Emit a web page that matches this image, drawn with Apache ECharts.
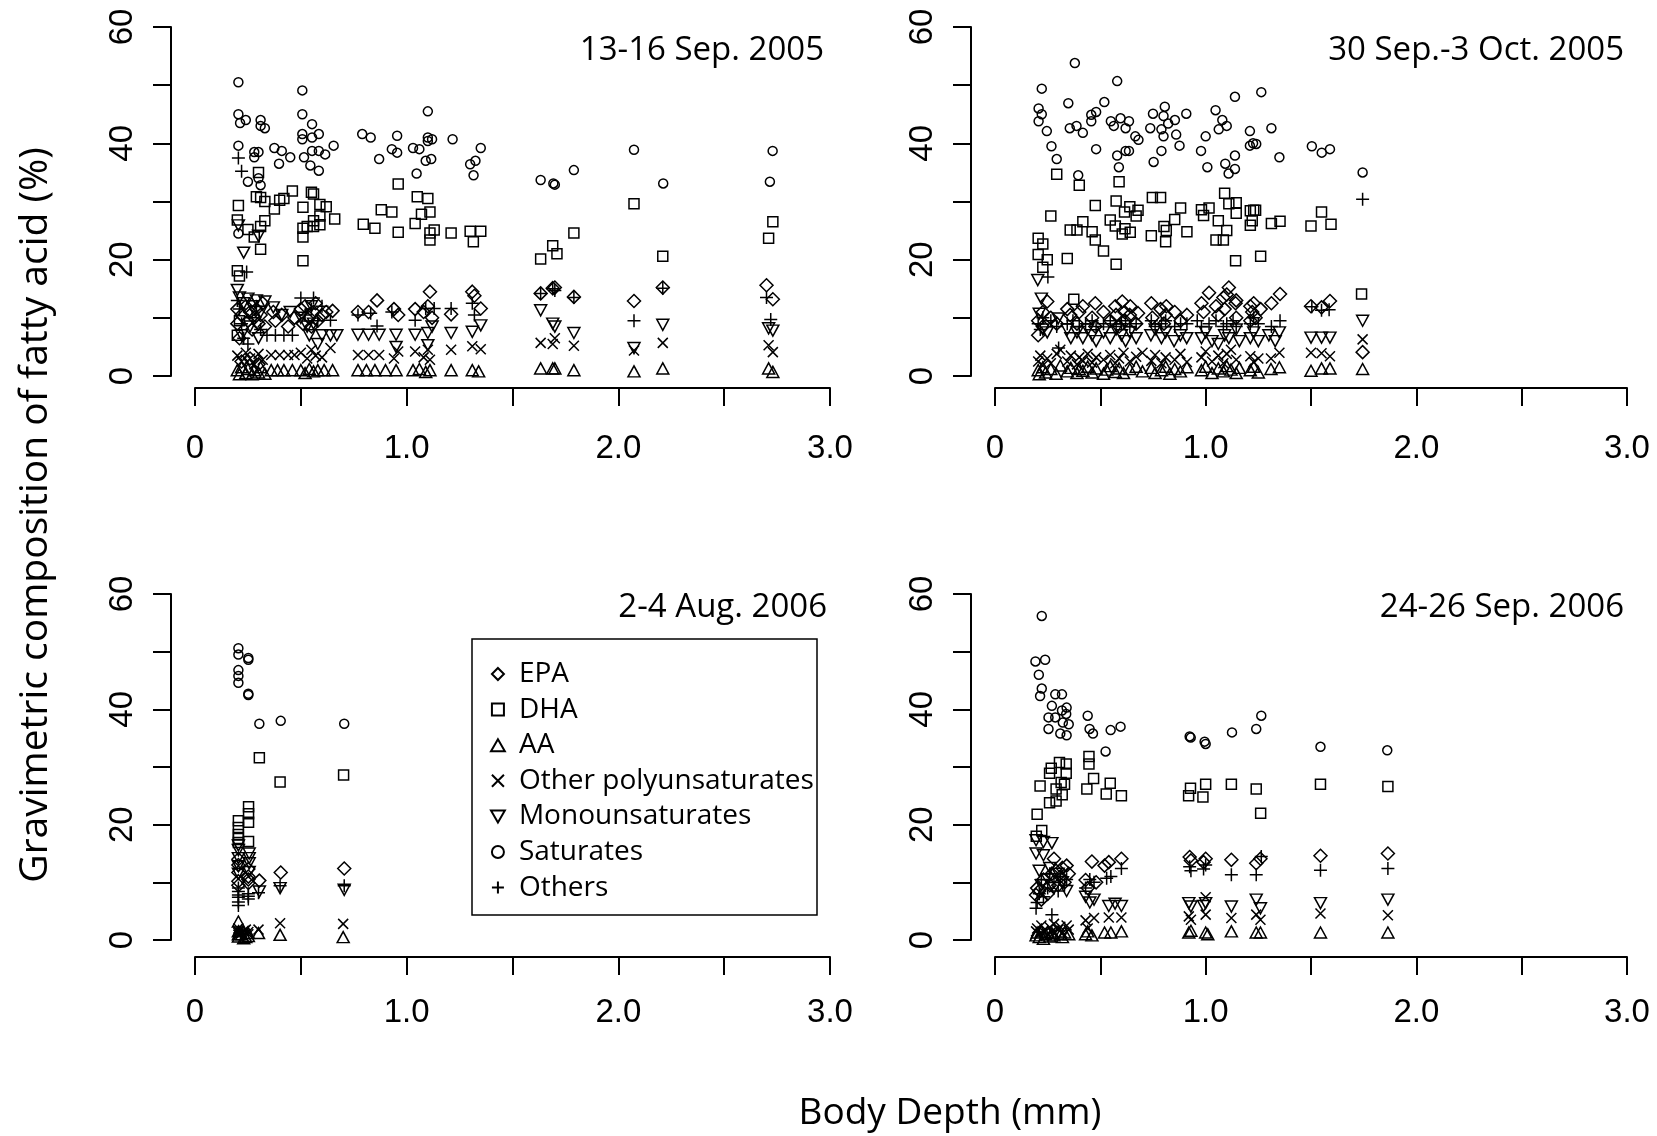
<!DOCTYPE html>
<html>
<head>
<meta charset="utf-8">
<script src="https://cdn.jsdelivr.net/npm/echarts@6/dist/echarts.min.js"></script>
<style>
  html, body { margin: 0; padding: 0; background: #fff; }
  #chart { width: 1657px; height: 1136px; }
</style>
</head>
<body>
<div id="chart"></div>
<script>
// panel titles, series names and tick labels
const panelTitles = ['13-16 Sep. 2005', '30 Sep.-3 Oct. 2005', '2-4 Aug. 2006', '24-26 Sep. 2006']
const seriesNames = ['EPA', 'DHA', 'AA', 'Other polyunsaturates', 'Monounsaturates', 'Saturates', 'Others']
const xLabels = { 0: '0', 1: '1.0', 2: '2.0', 3: '3.0' }
const yLabels = { 0: '0', 20: '20', 40: '40', 60: '60' }

// ---- panel 1: 13-16 Sep. 2005  [body depth mm, %] ----
const p1Epa = [[0.20,11.5],[0.20,9.0],[0.21,6.5],[0.22,10.5],[0.24,12.0],[0.25,9.5],[0.26,11.0],[0.27,8.0],[0.28,10.0],[0.29,11.5],[0.30,9.0],[0.31,10.5],[0.32,12.5],[0.33,8.5],[0.22,2.5],[0.26,3.0],[0.30,2.0],[0.37,11.0],[0.38,9.5],[0.41,10.5],[0.44,8.5],[0.47,10.0],[0.50,11.5],[0.51,9.0],[0.52,12.0],[0.54,10.0],[0.55,8.5],[0.56,11.0],[0.57,12.5],[0.58,9.5],[0.60,10.5],[0.62,11.0],[0.65,11.2],[0.77,11.0],[0.82,11.0],[0.86,13.0],[0.94,11.5],[0.96,10.5],[1.04,11.5],[1.08,11.0],[1.10,12.0],[1.11,14.5],[1.12,10.0],[1.21,10.6],[1.31,14.5],[1.32,13.8],[1.35,11.6],[1.633,14.2],[1.69,15.1],[1.70,15.2],[1.79,13.6],[2.074,12.9],[2.21,15.2],[2.70,15.6],[2.73,13.2]]
const p1Dha = [[0.30,35.0],[0.29,30.8],[0.31,30.7],[0.33,30.0],[0.205,29.3],[0.20,26.8],[0.25,25.2],[0.28,23.9],[0.31,25.7],[0.33,26.7],[0.31,21.8],[0.20,18.1],[0.21,17.2],[0.20,7.0],[0.21,9.5],[0.375,28.7],[0.40,30.2],[0.42,30.5],[0.46,31.8],[0.51,29.0],[0.51,25.4],[0.51,23.9],[0.51,19.8],[0.55,31.6],[0.56,31.3],[0.59,29.5],[0.62,29.1],[0.59,27.5],[0.56,26.7],[0.53,25.7],[0.56,25.7],[0.59,26.0],[0.66,27.0],[0.795,26.1],[0.85,25.4],[0.88,28.6],[0.93,28.2],[0.96,33.0],[0.96,24.7],[1.05,30.8],[1.10,30.5],[1.07,27.8],[1.11,28.2],[1.04,26.2],[1.11,24.6],[1.13,25.1],[1.11,23.4],[1.21,24.6],[1.30,24.9],[1.35,24.9],[1.315,23.1],[1.633,20.1],[1.69,22.4],[1.71,21.0],[1.79,24.6],[2.074,29.6],[2.21,20.6],[2.73,26.5],[2.71,23.7]]
const p1Aa = [[0.20,1.0],[0.21,0.3],[0.22,1.5],[0.24,0.5],[0.25,1.2],[0.27,0.3],[0.28,1.0],[0.30,0.6],[0.31,1.5],[0.33,0.4],[0.36,1.0],[0.39,1.0],[0.42,1.0],[0.46,1.0],[0.50,1.0],[0.52,0.5],[0.54,1.2],[0.56,0.8],[0.58,1.0],[0.61,1.0],[0.65,1.0],[0.77,1.0],[0.81,1.0],[0.85,1.0],[0.90,1.0],[0.95,1.0],[1.03,1.0],[1.06,1.2],[1.09,0.7],[1.11,1.0],[1.21,1.0],[1.31,1.0],[1.34,0.8],[1.633,1.3],[1.69,1.3],[1.70,1.3],[1.79,1.0],[2.074,0.8],[2.21,1.3],[2.71,1.3],[2.73,0.7]]
const p1Opu = [[0.20,3.5],[0.22,2.5],[0.24,4.0],[0.26,3.0],[0.28,2.0],[0.30,3.8],[0.32,2.8],[0.36,3.6],[0.40,3.6],[0.44,3.6],[0.47,3.6],[0.50,4.0],[0.53,3.0],[0.55,4.5],[0.57,3.5],[0.60,3.2],[0.64,4.8],[0.77,3.6],[0.82,3.6],[0.87,3.6],[0.94,3.0],[0.96,4.2],[1.04,4.2],[1.08,3.2],[1.10,4.5],[1.11,2.8],[1.21,4.5],[1.31,5.1],[1.35,4.6],[1.633,5.7],[1.69,5.5],[1.70,6.5],[1.79,5.2],[2.074,4.4],[2.21,5.7],[2.71,5.3],[2.73,4.1]]
const p1Mono = [[0.205,25.9],[0.23,21.2],[0.30,24.1],[0.20,14.8],[0.21,13.5],[0.23,12.5],[0.25,13.3],[0.27,12.0],[0.29,13.0],[0.31,11.0],[0.33,12.8],[0.22,7.0],[0.26,8.5],[0.30,6.5],[0.37,11.8],[0.41,10.5],[0.45,11.0],[0.50,10.0],[0.53,8.5],[0.55,12.0],[0.56,9.0],[0.58,5.5],[0.54,7.0],[0.60,7.0],[0.64,7.0],[0.67,7.0],[0.77,7.1],[0.82,7.1],[0.87,7.1],[0.95,7.1],[0.95,5.0],[1.04,7.1],[1.10,7.4],[1.10,5.3],[1.12,8.5],[1.21,7.4],[1.31,7.6],[1.35,8.7],[1.633,11.3],[1.69,9.0],[1.70,8.5],[1.79,7.4],[2.074,4.8],[2.21,8.8],[2.71,8.2],[2.73,7.8]]
const p1Sat = [[0.205,50.5],[0.205,45.0],[0.213,43.5],[0.24,44.0],[0.31,44.0],[0.31,43.0],[0.33,42.6],[0.205,39.6],[0.28,38.5],[0.30,38.5],[0.28,37.6],[0.375,39.2],[0.41,38.7],[0.45,37.6],[0.397,36.5],[0.507,49.1],[0.507,45.0],[0.553,43.3],[0.507,41.6],[0.507,40.7],[0.553,41.0],[0.585,41.6],[0.553,38.7],[0.585,38.7],[0.615,38.1],[0.655,39.6],[0.515,37.6],[0.545,36.2],[0.585,35.3],[0.25,33.4],[0.31,32.8],[0.30,34.0],[0.205,24.5],[0.79,41.6],[0.83,41.0],[0.955,41.3],[0.93,39.0],[0.955,38.4],[0.87,37.3],[1.10,45.5],[1.10,41.0],[1.10,40.4],[1.12,40.7],[1.03,39.2],[1.06,39.0],[1.09,37.0],[1.116,37.3],[1.047,34.8],[1.217,40.7],[1.35,39.2],[1.325,37.0],[1.30,36.4],[1.316,34.5],[1.633,33.7],[1.693,33.1],[1.70,32.9],[1.79,35.4],[2.074,38.9],[2.212,33.1],[2.729,38.7],[2.716,33.4]]
const p1Oth = [[0.205,37.5],[0.22,35.2],[0.244,17.9],[0.20,13.0],[0.21,11.5],[0.22,9.0],[0.23,6.5],[0.25,5.5],[0.27,10.0],[0.29,12.0],[0.31,8.0],[0.34,7.0],[0.38,7.0],[0.42,7.0],[0.46,7.0],[0.50,13.4],[0.56,13.4],[0.52,10.5],[0.55,11.5],[0.58,9.5],[0.64,9.6],[0.60,12.0],[0.77,10.5],[0.83,10.8],[0.86,8.6],[0.93,11.0],[1.04,9.6],[1.09,11.6],[1.13,11.6],[1.21,11.6],[1.31,12.5],[1.32,10.5],[1.633,14.2],[1.69,15.0],[1.70,14.7],[1.79,13.5],[2.074,9.5],[2.21,15.1],[2.70,13.5],[2.72,9.7]]

// ---- panel 2: 30 Sep.-3 Oct. 2005 ----
const p2Epa = [[0.205,9.5],[0.205,7.0],[0.227,11.0],[0.227,8.5],[0.248,12.8],[0.265,10.0],[0.293,9.0],[0.343,11.5],[0.357,10.5],[0.389,9.0],[0.40,11.0],[0.417,12.0],[0.461,10.0],[0.476,12.5],[0.476,8.5],[0.515,11.0],[0.547,9.5],[0.571,12.0],[0.575,10.5],[0.589,8.5],[0.604,12.8],[0.615,11.0],[0.617,9.5],[0.64,10.5],[0.642,12.0],[0.67,9.0],[0.679,10.8],[0.742,12.5],[0.747,10.0],[0.786,11.5],[0.802,9.0],[0.81,10.5],[0.813,12.0],[0.853,11.0],[0.881,9.5],[0.911,10.5],[0.98,12.5],[0.99,11.0],[1.016,14.3],[1.049,12.0],[1.06,10.5],[1.084,13.5],[1.09,11.5],[1.10,14.0],[1.11,15.2],[1.142,12.5],[1.145,10.0],[1.145,13.0],[1.212,12.0],[1.212,9.5],[1.221,11.0],[1.228,12.5],[1.237,10.0],[1.261,11.5],[1.312,12.5],[1.353,14.1],[1.50,12.0],[1.55,11.8],[1.59,12.9],[1.745,4.1]]
const p2Dha = [[0.293,34.7],[0.40,32.8],[0.589,33.4],[0.265,27.5],[0.205,23.7],[0.227,22.7],[0.205,20.9],[0.248,20.0],[0.227,18.7],[0.343,20.2],[0.357,25.1],[0.389,25.1],[0.417,26.5],[0.461,24.8],[0.476,23.4],[0.476,29.3],[0.515,21.5],[0.575,19.2],[0.547,26.8],[0.575,30.1],[0.571,25.8],[0.615,28.2],[0.64,29.1],[0.617,25.3],[0.604,24.4],[0.642,24.7],[0.67,27.5],[0.679,28.5],[0.742,24.1],[0.747,30.7],[0.786,30.7],[0.802,25.7],[0.813,25.0],[0.81,23.1],[0.853,26.9],[0.881,28.9],[0.911,24.8],[0.98,28.6],[1.016,28.9],[0.99,27.6],[1.06,26.7],[1.10,25.0],[1.049,23.4],[1.084,23.4],[1.09,31.4],[1.11,29.6],[1.145,29.8],[1.145,28.0],[1.142,19.8],[1.212,28.4],[1.228,28.5],[1.237,28.5],[1.221,26.7],[1.212,25.9],[1.261,20.6],[1.312,26.2],[1.353,26.6],[0.374,13.2],[1.50,25.8],[1.55,28.2],[1.595,26.1],[1.74,14.1]]
const p2Aa = [[0.205,1.0],[0.21,0.3],[0.227,1.5],[0.24,0.6],[0.265,1.2],[0.29,0.4],[0.31,1.8],[0.343,0.8],[0.36,1.4],[0.389,0.5],[0.40,1.2],[0.417,0.9],[0.44,1.6],[0.461,0.6],[0.48,1.3],[0.515,0.4],[0.53,1.1],[0.547,1.7],[0.571,0.7],[0.589,1.3],[0.61,0.5],[0.64,1.2],[0.67,1.6],[0.70,0.8],[0.742,1.4],[0.76,0.5],[0.79,1.0],[0.81,1.6],[0.83,0.4],[0.853,1.2],[0.88,0.8],[0.911,1.5],[0.98,1.0],[1.0,1.6],[1.03,0.5],[1.06,1.3],[1.084,0.8],[1.10,1.7],[1.12,1.1],[1.145,0.5],[1.16,1.4],[1.212,1.0],[1.228,1.6],[1.25,0.6],[1.31,1.2],[1.35,1.5],[1.50,0.9],[1.55,1.3],[1.59,1.3],[1.745,1.2]]
const p2Opu = [[0.205,2.5],[0.215,3.5],[0.227,1.8],[0.248,3.0],[0.265,2.2],[0.293,3.8],[0.31,4.5],[0.343,2.5],[0.36,3.5],[0.389,2.0],[0.40,3.2],[0.417,2.6],[0.44,3.8],[0.461,2.3],[0.48,3.2],[0.515,2.8],[0.547,3.6],[0.571,2.2],[0.589,3.0],[0.61,4.0],[0.64,2.5],[0.67,3.3],[0.70,4.0],[0.742,2.6],[0.76,3.6],[0.79,2.2],[0.81,3.2],[0.853,2.8],[0.88,3.8],[0.911,2.4],[0.98,3.2],[1.0,4.2],[1.03,2.5],[1.06,3.5],[1.084,2.2],[1.10,3.8],[1.12,4.5],[1.145,2.8],[1.212,3.4],[1.228,2.4],[1.25,3.0],[1.31,3.0],[1.35,4.0],[1.50,4.0],[1.55,3.9],[1.59,3.4],[1.745,6.3]]
const p2Mono = [[0.203,16.5],[0.22,13.3],[0.21,10.7],[0.227,8.0],[0.248,7.5],[0.30,9.9],[0.343,8.0],[0.36,6.5],[0.389,7.5],[0.417,6.5],[0.44,8.0],[0.461,7.0],[0.48,6.0],[0.515,7.5],[0.547,6.5],[0.575,8.0],[0.60,7.0],[0.62,6.0],[0.64,7.5],[0.67,6.5],[0.74,7.0],[0.76,8.0],[0.79,6.5],[0.81,7.5],[0.85,6.0],[0.88,7.0],[0.91,6.5],[0.98,6.5],[1.0,7.5],[1.03,6.0],[1.06,5.5],[1.09,7.0],[1.11,6.5],[1.145,8.0],[1.16,6.0],[1.212,6.5],[1.228,7.5],[1.25,6.0],[1.30,7.0],[1.33,6.0],[1.35,7.5],[1.50,6.6],[1.55,6.6],[1.59,6.6],[1.745,9.5]]
const p2Sat = [[0.379,53.8],[0.222,49.4],[0.58,50.7],[0.348,46.9],[0.519,47.1],[0.207,46.0],[0.222,45.0],[0.207,43.8],[0.246,42.1],[0.268,39.5],[0.293,37.3],[0.355,42.6],[0.387,43.0],[0.417,41.8],[0.457,44.9],[0.48,45.4],[0.457,43.8],[0.48,39.0],[0.395,34.5],[0.55,43.8],[0.596,44.3],[0.636,43.8],[0.564,43.0],[0.62,42.6],[0.666,41.2],[0.681,40.6],[0.58,37.9],[0.62,38.7],[0.636,38.7],[0.588,35.9],[0.75,45.1],[0.806,46.3],[0.80,44.7],[0.854,44.0],[0.822,43.4],[0.908,45.1],[0.737,42.6],[0.79,42.4],[0.80,41.2],[0.86,41.5],[0.876,39.6],[0.79,38.7],[0.753,36.8],[1.047,45.7],[1.079,44.0],[1.10,43.0],[1.062,42.4],[1.139,48.0],[1.264,48.8],[1.0,41.2],[0.978,38.7],[1.008,35.9],[1.093,36.5],[1.139,37.9],[1.139,35.6],[1.109,34.8],[1.21,42.1],[1.312,42.6],[1.21,39.6],[1.225,40.0],[1.24,39.9],[1.35,37.6],[1.504,39.5],[1.551,38.4],[1.59,39.0],[1.745,35.0]]
const p2Oth = [[0.205,9.0],[0.215,8.0],[0.227,10.0],[0.251,17.0],[0.265,9.5],[0.302,4.8],[0.293,8.5],[0.343,9.0],[0.37,9.5],[0.40,8.5],[0.43,9.0],[0.461,9.5],[0.48,8.5],[0.515,9.0],[0.547,9.5],[0.575,8.5],[0.60,9.0],[0.62,9.5],[0.64,8.5],[0.67,9.0],[0.742,9.5],[0.76,8.5],[0.79,9.0],[0.81,9.5],[0.853,8.5],[0.881,9.0],[0.911,9.0],[0.96,9.5],[0.98,8.5],[1.016,9.0],[1.049,9.5],[1.084,8.5],[1.10,9.0],[1.13,9.5],[1.145,8.5],[1.212,9.0],[1.228,10.0],[1.25,9.0],[1.312,8.5],[1.353,9.5],[1.504,11.9],[1.55,11.3],[1.586,11.4],[1.745,30.4]]

// ---- panel 3: 2-4 Aug. 2006 ----
const p3Epa = [[0.405,11.7],[0.705,12.4],[0.304,10.3],[0.205,10.2],[0.205,11.7],[0.205,13.0],[0.205,9.5],[0.252,9.9],[0.252,11.0],[0.252,12.3],[0.205,14.0],[0.252,10.5]]
const p3Dha = [[0.304,31.6],[0.402,27.4],[0.702,28.6],[0.253,23.1],[0.253,21.9],[0.253,20.4],[0.253,17.1],[0.205,20.7],[0.205,19.5],[0.205,18.3],[0.205,17.6],[0.205,16.9]]
const p3Aa = [[0.402,0.9],[0.70,0.5],[0.30,1.2],[0.205,3.2],[0.205,1.5],[0.205,0.6],[0.22,1.0],[0.24,0.5],[0.252,1.2],[0.252,0.7],[0.205,1.0],[0.23,0.3]]
const p3Opu = [[0.402,2.9],[0.70,2.8],[0.30,1.8],[0.205,1.5],[0.22,1.2],[0.24,1.8],[0.205,0.9],[0.252,1.4],[0.205,2.0],[0.252,1.0],[0.23,1.6],[0.205,1.2]]
const p3Mono = [[0.205,15.6],[0.256,15.0],[0.256,13.3],[0.205,14.2],[0.205,12.8],[0.304,8.4],[0.402,9.0],[0.705,8.7],[0.205,16.4],[0.256,11.8],[0.205,11.5],[0.256,14.2]]
const p3Sat = [[0.205,50.6],[0.205,49.5],[0.252,48.9],[0.252,48.6],[0.205,46.8],[0.205,45.8],[0.205,44.6],[0.252,42.7],[0.252,42.5],[0.304,37.5],[0.405,38.0],[0.705,37.5]]
const p3Oth = [[0.402,9.4],[0.705,9.4],[0.30,8.2],[0.205,7.8],[0.205,7.4],[0.205,6.6],[0.252,7.1],[0.205,8.4],[0.205,9.0],[0.252,8.0],[0.205,6.0],[0.252,7.6]]

// ---- panel 4: 24-26 Sep. 2006 ----
const p4Epa = [[0.195,7.8],[0.20,9.0],[0.21,8.5],[0.22,7.0],[0.23,10.5],[0.25,8.0],[0.27,11.5],[0.28,14.1],[0.29,12.0],[0.30,9.5],[0.31,11.0],[0.32,12.5],[0.33,10.0],[0.34,12.9],[0.35,11.5],[0.26,9.5],[0.43,10.4],[0.44,9.0],[0.46,13.6],[0.48,10.0],[0.52,12.9],[0.54,13.5],[0.60,14.1],[0.924,14.4],[0.93,13.8],[1.0,14.1],[0.99,13.5],[1.122,13.9],[1.24,13.3],[1.26,14.1],[1.545,14.6],[1.865,15.0]]
const p4Dha = [[0.20,21.8],[0.214,26.7],[0.259,28.9],[0.267,29.8],[0.306,30.8],[0.338,30.5],[0.338,28.9],[0.33,27.0],[0.314,27.3],[0.29,26.2],[0.319,25.2],[0.29,24.1],[0.259,23.8],[0.222,19.0],[0.196,18.0],[0.446,31.8],[0.446,30.5],[0.468,28.0],[0.436,26.2],[0.547,27.2],[0.528,25.3],[0.60,25.0],[0.928,26.3],[0.919,25.0],[1.0,27.0],[0.987,24.8],[1.122,27.0],[1.24,26.2],[1.261,22.0],[1.545,27.0],[1.865,26.6]]
const p4Aa = [[0.195,0.8],[0.20,1.3],[0.21,0.5],[0.22,1.5],[0.23,0.2],[0.24,1.0],[0.25,1.4],[0.26,0.6],[0.27,1.2],[0.28,0.8],[0.30,1.5],[0.31,1.0],[0.32,0.5],[0.33,1.3],[0.35,1.0],[0.43,1.0],[0.44,1.5],[0.46,0.8],[0.52,1.3],[0.55,1.3],[0.60,1.5],[0.92,1.3],[0.93,1.6],[1.0,1.3],[1.01,1.0],[1.122,1.5],[1.24,1.3],[1.26,1.3],[1.545,1.3],[1.865,1.3]]
const p4Opu = [[0.195,1.5],[0.20,2.0],[0.21,1.0],[0.22,2.5],[0.23,1.5],[0.25,1.0],[0.26,2.2],[0.27,1.5],[0.28,2.8],[0.30,1.8],[0.31,2.3],[0.32,1.2],[0.34,2.5],[0.35,1.8],[0.43,3.4],[0.44,2.0],[0.47,3.8],[0.54,3.9],[0.60,3.9],[0.92,4.1],[0.93,3.5],[1.0,4.4],[1.0,7.4],[1.122,3.8],[1.24,4.4],[1.26,3.5],[1.545,4.6],[1.865,4.3]]
const p4Mono = [[0.195,17.3],[0.23,17.0],[0.27,16.8],[0.195,15.0],[0.23,14.7],[0.21,12.0],[0.25,10.5],[0.28,9.0],[0.30,11.5],[0.32,10.0],[0.34,8.5],[0.26,12.5],[0.22,9.5],[0.43,7.5],[0.45,6.5],[0.47,7.0],[0.54,5.9],[0.60,5.9],[0.57,6.3],[0.92,6.4],[0.93,5.8],[1.0,6.4],[0.99,5.9],[1.122,5.8],[1.24,7.0],[1.26,5.5],[1.545,6.4],[1.865,7.0]]
const p4Sat = [[0.222,56.2],[0.192,48.3],[0.238,48.6],[0.208,46.0],[0.222,43.6],[0.214,42.3],[0.286,42.6],[0.318,42.6],[0.27,40.6],[0.318,39.8],[0.34,40.3],[0.338,39.2],[0.254,38.6],[0.286,38.6],[0.322,37.7],[0.35,37.4],[0.254,36.6],[0.31,35.8],[0.34,35.5],[0.44,38.9],[0.449,36.6],[0.465,35.8],[0.525,32.7],[0.549,36.4],[0.596,37.0],[0.924,35.3],[0.929,35.1],[0.995,34.4],[1.0,34.0],[1.125,36.0],[1.24,36.6],[1.264,38.9],[1.545,33.5],[1.862,32.9]]
const p4Oth = [[0.195,5.5],[0.20,6.5],[0.21,8.0],[0.22,10.5],[0.23,7.5],[0.25,9.0],[0.27,4.4],[0.28,10.0],[0.30,8.5],[0.31,11.0],[0.33,9.5],[0.34,10.5],[0.26,11.5],[0.43,9.0],[0.45,10.5],[0.47,10.0],[0.53,10.7],[0.55,11.0],[0.60,12.4],[0.924,12.7],[0.93,12.0],[1.0,13.0],[0.99,12.3],[1.122,11.3],[1.24,11.3],[1.264,14.5],[1.545,12.1],[1.865,12.4]]

const panelData = [
  [p1Epa, p1Dha, p1Aa, p1Opu, p1Mono, p1Sat, p1Oth],
  [p2Epa, p2Dha, p2Aa, p2Opu, p2Mono, p2Sat, p2Oth],
  [p3Epa, p3Dha, p3Aa, p3Opu, p3Mono, p3Sat, p3Oth],
  [p4Epa, p4Dha, p4Aa, p4Opu, p4Mono, p4Sat, p4Oth],
]

// layout (pixels)
const grids = [
  { left: 195, top: 27, width: 635, height: 349 },
  { left: 995, top: 27, width: 632, height: 349 },
  { left: 195, top: 594, width: 635, height: 346 },
  { left: 995, top: 594, width: 632, height: 346 },
]
const xOffsets = [12, 12, 17, 17]
const xMargins = [44, 44, 39, 39]
const titlePos = [[824, 51], [1624, 51], [827, 608], [1624, 608]]

// R-like open symbols (paths so the legend keeps their aspect)
const symbols = [
  { symbol: 'path://M5,0 L10,5 L5,10 L0,5 Z', size: 13 },
  { symbol: 'path://M0,0 L10,0 L10,10 L0,10 Z', size: 10 },
  { symbol: 'path://M5,0 L10,8.66 L0,8.66 Z', size: [12, 11] },
  { symbol: 'path://M0,0 L10,10 M10,0 L0,10', size: 10 },
  { symbol: 'path://M0,0 L10,0 L5,8.66 Z', size: [12, 11] },
  { symbol: 'circle', size: 9 },
  { symbol: 'path://M5,0 L5,10 M0,5 L10,5', size: 13 },
]

const tickFont = 'Liberation Sans'
const textFont = 'Open Sans'
const lineStyle = { color: '#000', width: 2 }

const chart = echarts.init(document.getElementById('chart'))

const series = []
panelData.forEach((sets, p) => {
  sets.forEach((data, s) => {
    series.push({
      name: seriesNames[s],
      type: 'scatter',
      xAxisIndex: p,
      yAxisIndex: p,
      symbol: symbols[s].symbol,
      symbolSize: symbols[s].size,
      itemStyle: { color: 'transparent', borderColor: '#000', borderWidth: 1.5, opacity: 1 },
      emphasis: { disabled: true },
      data: data,
    })
  })
})

chart.setOption({
  animation: false,
  backgroundColor: '#fff',
  grid: grids.map(g => ({ ...g, containLabel: false, outerBoundsMode: 'none' })),
  xAxis: grids.map((g, i) => ({
    gridIndex: i,
    type: 'value',
    min: 0,
    max: 3,
    interval: 0.5,
    offset: xOffsets[i],
    axisLine: { onZero: false, lineStyle },
    axisTick: { length: 18, lineStyle },
    splitLine: { show: false },
    axisLabel: {
      margin: xMargins[i],
      color: '#000',
      fontFamily: tickFont,
      fontSize: 33,
      formatter: v => xLabels[v] || '',
    },
  })),
  yAxis: grids.map((g, i) => ({
    gridIndex: i,
    type: 'value',
    min: 0,
    max: 60,
    interval: 10,
    offset: 24,
    axisLine: { show: true, onZero: false, lineStyle },
    axisTick: { show: true, length: 18, lineStyle },
    splitLine: { show: false },
    axisLabel: {
      rotate: 90,
      margin: 32,
      color: '#000',
      fontFamily: tickFont,
      fontSize: 33,
      formatter: v => yLabels[v] || '',
    },
  })),
  legend: {
    orient: 'vertical',
    left: 485,
    top: 654,
    itemGap: 5.6,
    itemWidth: 32,
    itemHeight: 12,
    selectedMode: false,
    data: seriesNames,
    textStyle: { color: '#000', fontFamily: textFont, fontSize: 28, lineHeight: 30 },
  },
  graphic: [
    {
      type: 'rect',
      shape: { x: 472, y: 639, width: 345, height: 276 },
      style: { fill: 'transparent', stroke: '#000', lineWidth: 1.5 },
      z: 10,
    },
    ...panelTitles.map((t, i) => ({
      type: 'text',
      x: titlePos[i][0],
      y: titlePos[i][1],
      style: {
        text: t, fill: '#000', font: '33px "Open Sans"',
        textAlign: 'right', textVerticalAlign: 'middle', align: 'right', verticalAlign: 'middle',
      },
    })),
    {
      type: 'text',
      x: 36,
      y: 515,
      rotation: Math.PI / 2,
      style: {
        text: 'Gravimetric composition of fatty acid (%)', fill: '#000', font: '39px "Open Sans"',
        textAlign: 'center', textVerticalAlign: 'middle', align: 'center', verticalAlign: 'middle',
      },
    },
    {
      type: 'text',
      x: 950,
      y: 1113,
      style: {
        text: 'Body Depth (mm)', fill: '#000', font: '37px "Open Sans"',
        textAlign: 'center', textVerticalAlign: 'middle', align: 'center', verticalAlign: 'middle',
      },
    },
  ],
  series: series,
})
</script>
</body>
</html>
